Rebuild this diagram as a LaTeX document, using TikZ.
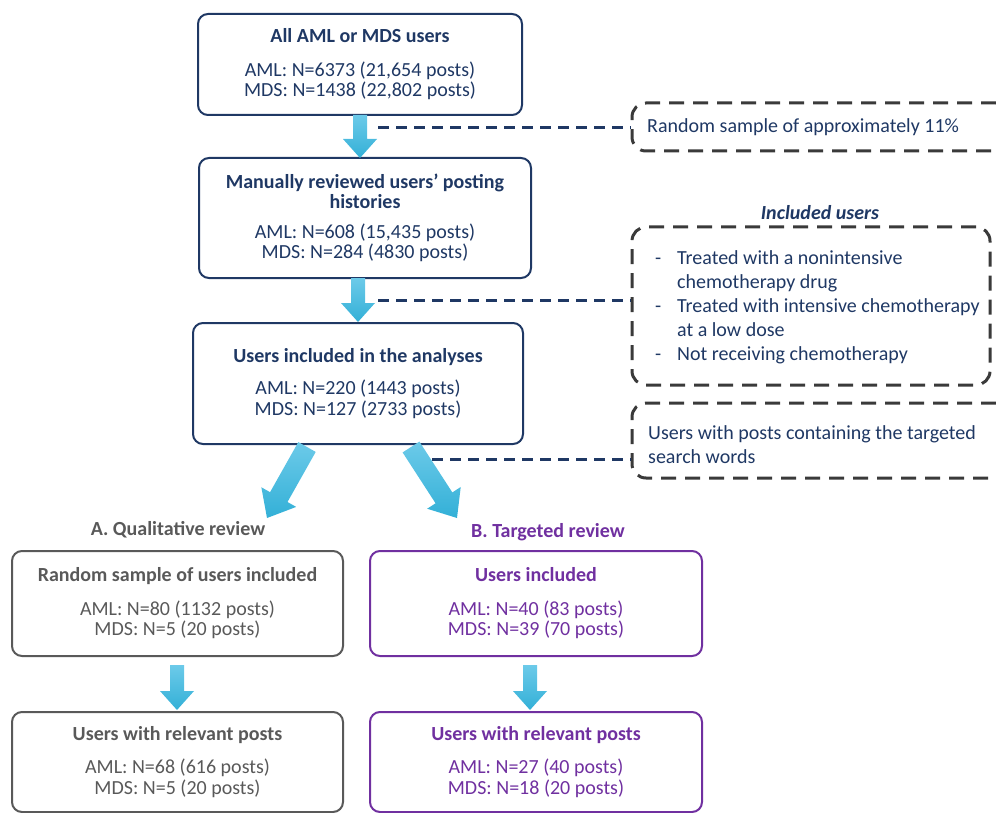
\documentclass[tikz,border=0pt]{standalone}
\usepackage{fontspec}
\setmainfont{Carlito}
\usetikzlibrary{calc}
\definecolor{navy}{HTML}{1F3864}
\definecolor{dgray}{HTML}{3A3A3A}
\definecolor{tgray}{HTML}{595959}
\definecolor{purp}{HTML}{7030A0}
\definecolor{arrtop}{HTML}{6CCAE9}
\definecolor{arrbot}{HTML}{33B0D7}
\newcommand\fatarrow[5]{%
  \coordinate (fa-s) at (#1); \coordinate (fa-e) at (#2);
  \coordinate (fa-b) at ($(fa-e)!#5pt!(fa-s)$);
  \shade[top color=arrtop, bottom color=arrbot]
    ($(fa-s)!#3pt!90:(fa-e)$) -- ($(fa-b)!#3pt!-90:(fa-s)$) -- ($(fa-b)!#4pt!-90:(fa-s)$)
    -- (fa-e) -- ($(fa-b)!#4pt!90:(fa-s)$) -- ($(fa-b)!#3pt!90:(fa-s)$)
    -- ($(fa-s)!#3pt!-90:(fa-e)$) -- cycle;
}
\tikzset{
  txt/.style={font=\fontsize{20}{20.5}\selectfont, inner sep=0pt},
  navybox/.style={txt, draw=navy, text=navy, line width=2pt, rounded corners=10pt, align=center},
  graybox/.style={txt, draw=tgray, text=tgray, line width=2pt, rounded corners=10pt, align=center},
  purpbox/.style={txt, draw=purp, text=purp, line width=2pt, rounded corners=10pt, align=center},
  dashbox/.style={draw=dgray, line width=3pt, dash pattern=on 15pt off 9pt, rounded corners=14pt, inner sep=0pt},
  conn/.style={draw=navy, line width=3pt, dash pattern=on 11pt off 7pt},
  note/.style={txt, text=navy, align=left}
}
\begin{document}
\begin{tikzpicture}[x=1pt,y=-1pt]
\useasboundingbox (0,0) rectangle (996,813);

% main boxes
\node[navybox, minimum width=324pt, minimum height=101pt] (b1) at (360,64.5)
  {\textbf{All AML or MDS users}\\[13pt]AML: N=6373 (21,654 posts)\\MDS: N=1438 (22,802 posts)};
\node[navybox, minimum width=332pt, minimum height=120pt] (b2) at (365,218)
  {\textbf{Manually reviewed users’ posting}\\\textbf{histories}\\[9pt]AML: N=608 (15,435 posts)\\MDS: N=284 (4830 posts)};
\node[navybox, minimum width=330pt, minimum height=121pt] (b3) at (358,383.5)
  {\textbf{Users included in the analyses}\\[12pt]AML: N=220 (1443 posts)\\MDS: N=127 (2733 posts)};

% dashed side boxes
\node[dashbox, minimum width=378pt, minimum height=48pt] (d1) at (821,127) {};
\node[note, anchor=west] (d1t) at (647,127) {Random sample of approximately 11\%};

\node[txt, text=navy] (d2h) at (820,213) {\bfseries\itshape Included users};
\node[dashbox, minimum width=358pt, minimum height=158pt] (d2) at (811,306) {};
\node[note, anchor=west, font=\fontsize{20}{24}\selectfont] (d2t) at (655,307)
  {\makebox[22pt][l]{-}Treated with a nonintensive\\
   \hspace*{22pt}chemotherapy drug\\
   \makebox[22pt][l]{-}Treated with intensive chemotherapy\\
   \hspace*{22pt}at a low dose\\
   \makebox[22pt][l]{-}Not receiving chemotherapy};

\node[dashbox, minimum width=378pt, minimum height=75pt] (d3) at (821,440.5) {};
\node[note, anchor=west, font=\fontsize{20}{24}\selectfont] (d3t) at (648,445)
  {Users with posts containing the targeted\\search words};

% arrows between main boxes
\fatarrow{360,115}{360,158}{7}{17}{19}
\fatarrow{358,278}{358,322}{7}{17}{19}

% dashed connectors
\coordinate (c1) at (378,128);
\coordinate (c2) at (378,300);
\coordinate (c3) at (432,459);
\draw[conn] (c1) -- (c1 -| d1.west);
\draw[conn] (c2) -- (c2 -| d2.west);
\draw[conn] (c3) -- (c3 -| d3.west);

% diagonal arrows
\fatarrow{307,447}{267,518}{10}{20}{24}
\fatarrow{411,447}{457,518}{10}{20}{24}

% branch labels
\node[txt, text=tgray] (la) at (178,530) {\textbf{A. Qualitative review}};
\node[txt, text=purp] (lb) at (548,532) {\textbf{B. Targeted review}};

% bottom boxes
\node[graybox, minimum width=331pt, minimum height=105pt] (qa) at (177.5,603.5)
  {\textbf{Random sample of users included}\\[13pt]AML: N=80 (1132 posts)\\MDS: N=5 (20 posts)};
\node[purpbox, minimum width=332pt, minimum height=105pt] (ta) at (536,603.5)
  {\textbf{Users included}\\[13pt]AML: N=40 (83 posts)\\MDS: N=39 (70 posts)};
\node[graybox, minimum width=331pt, minimum height=100pt] (qb) at (177.5,762)
  {\textbf{Users with relevant posts}\\[13pt]AML: N=68 (616 posts)\\MDS: N=5 (20 posts)};
\node[purpbox, minimum width=332pt, minimum height=100pt] (tb) at (536,762)
  {\textbf{Users with relevant posts}\\[13pt]AML: N=27 (40 posts)\\MDS: N=18 (20 posts)};

\fatarrow{177,665}{177,710}{7}{17}{19}
\fatarrow{530,665}{530,710}{7}{17}{19}
\end{tikzpicture}
\end{document}
